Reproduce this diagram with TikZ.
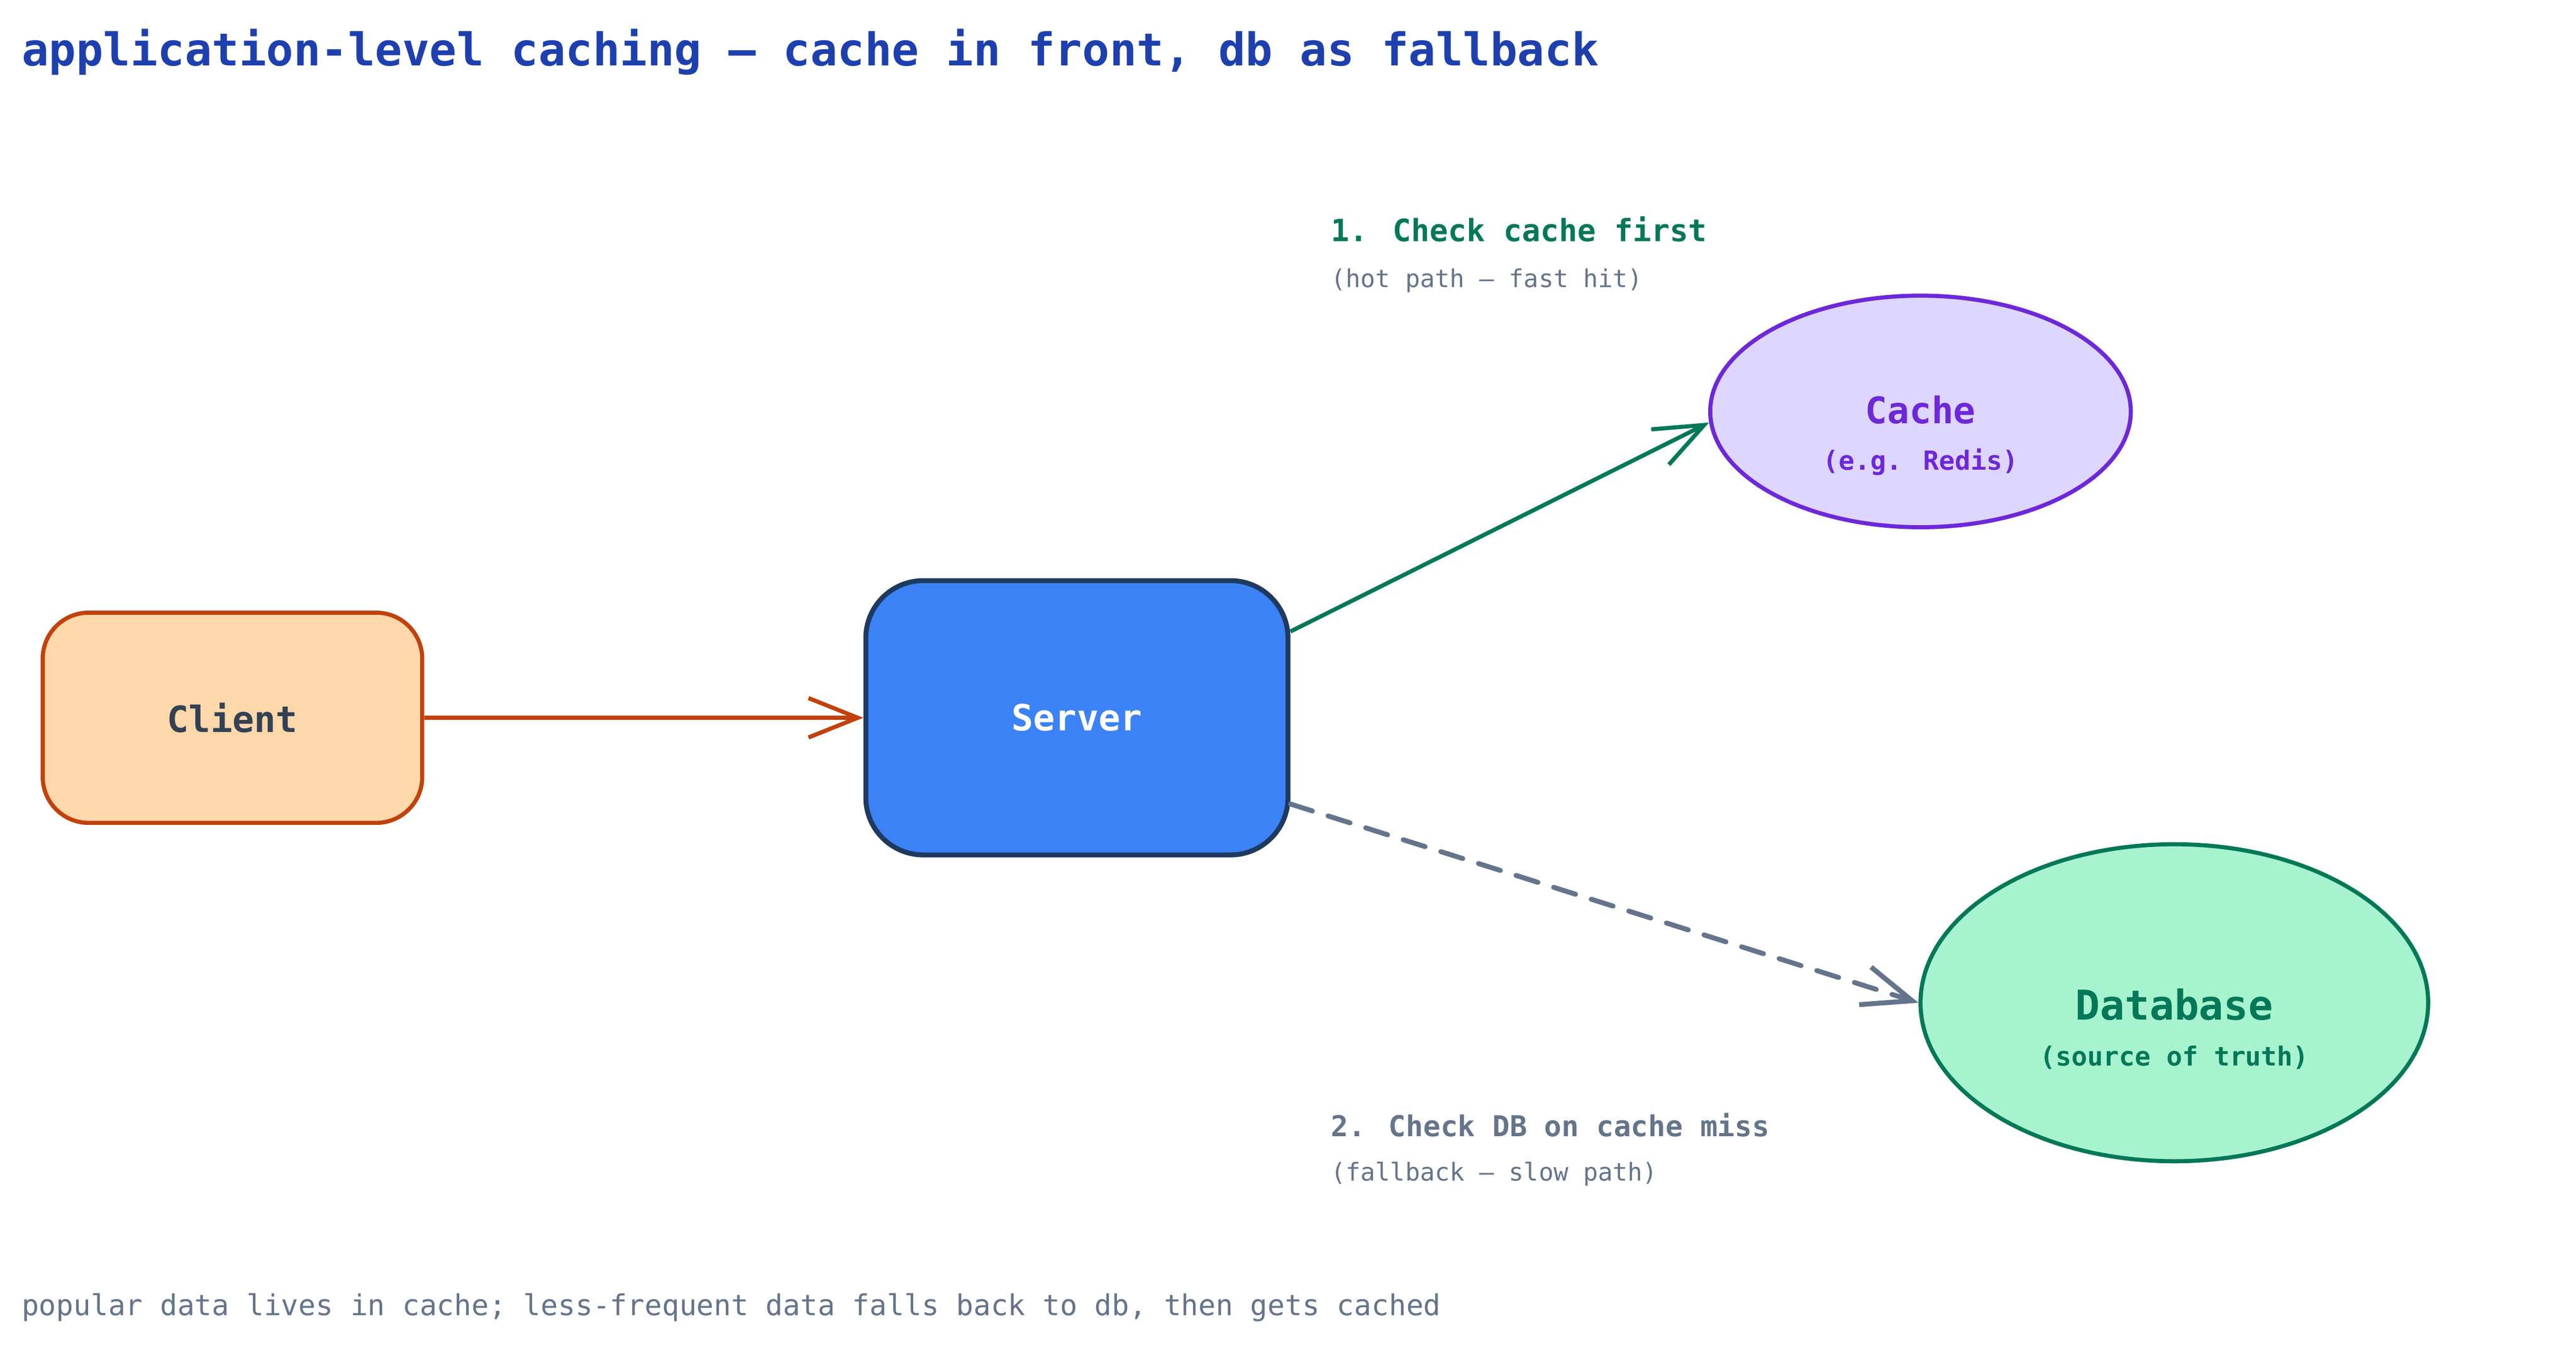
\documentclass[tikz,border=0pt]{standalone}
\usepackage{fontspec}
\setmainfont{DejaVu Sans Mono}
\usetikzlibrary{arrows.meta,shapes.geometric}

\definecolor{titleblue}{HTML}{1E40AF}
\definecolor{clientfill}{HTML}{FED7AA}
\definecolor{clientline}{HTML}{C2410C}
\definecolor{serverfill}{HTML}{3B82F6}
\definecolor{serverline}{HTML}{1E3A5F}
\definecolor{cachefill}{HTML}{DDD6FE}
\definecolor{cacheline}{HTML}{6D28D9}
\definecolor{dbfill}{HTML}{A7F3D0}
\definecolor{dbline}{HTML}{047857}
\definecolor{slate}{HTML}{64748B}
\definecolor{slatedark}{HTML}{334155}

\begin{document}
\begin{tikzpicture}[x=1pt, y=-1pt,
    box/.style={draw, rounded corners=28pt, line width=2.5pt, font=\bfseries\fontsize{22}{26}\selectfont},
    store/.style={draw, ellipse, line width=2.5pt, inner sep=0pt},
    storename/.style={anchor=base, font=\bfseries\fontsize{22.3}{26}\selectfont},
    storenote/.style={anchor=base, font=\bfseries\fontsize{16}{19}\selectfont},
    note/.style={anchor=base west, inner sep=0pt},
    flow/.style={line width=2.5pt, -{Straight Barb[length=30pt, width=24pt]}}
]

    % Canvas
    \useasboundingbox (0,0) rectangle (1568,827.7);

    % Title
    \node[note, text=titleblue, font=\bfseries\fontsize{27.5}{33}\selectfont] (title) at (13,40)
        {application-level caching – cache in front, db as fallback};

    %%%% Client and Server
    \node[box, fill=clientfill, draw=clientline, text=slatedark,
          minimum width=231pt, minimum height=128pt] (client) at (141.5,437) {Client};
    \node[box, rounded corners=35pt, line width=3pt, fill=serverfill, draw=serverline, text=white,
          minimum width=257pt, minimum height=167pt] (server) at (655.5,437) {Server};

    %%%% Cache
    \node[store, fill=cachefill, draw=cacheline, minimum width=256pt, minimum height=141pt] (cache) at (1169,250.5) {};
    \node[storename, text=cacheline] (cachename) at (1169,258) {Cache};
    \node[storenote, text=cacheline] (cachenote) at (1169,286) {(e.g. Redis)};

    %%%% Database
    \node[store, fill=dbfill, draw=dbline, minimum width=309pt, minimum height=193pt] (db) at (1323.5,610.5) {};
    \node[storename, text=dbline, font=\bfseries\fontsize{25}{30}\selectfont] (dbname) at (1323.5,621) {Database};
    \node[storenote, text=dbline] (dbnote) at (1323.5,649) {(source of truth)};

    %%%% Connectors
    \draw[flow, clientline] (client.east) -- (server.west);
    \draw[flow, dbline] (server.22) -- (cache.183);
    \draw[flow, slate, line width=3pt, dash pattern=on 14pt off 10pt, line cap=round] (server.-22) -- (db.west);

    % Hit path label
    \node[note, text=dbline, font=\bfseries\fontsize{18.7}{22}\selectfont] (hitlabel) at (810,147) {1. Check cache first};
    \node[note, text=slate, font=\fontsize{15}{18}\selectfont] (hitnote) at (810,175) {(hot path – fast hit)};

    % Miss path label
    \node[note, text=slate, font=\bfseries\fontsize{17.5}{21}\selectfont] (misslabel) at (810,692) {2. Check DB on cache miss};
    \node[note, text=slate, font=\fontsize{15}{18}\selectfont] (missnote) at (810,719) {(fallback – slow path)};

    % Footer
    \node[note, text=slate, font=\fontsize{17.5}{21}\selectfont] (footer) at (13,801)
        {popular data lives in cache; less-frequent data falls back to db, then gets cached};

\end{tikzpicture}
\end{document}
